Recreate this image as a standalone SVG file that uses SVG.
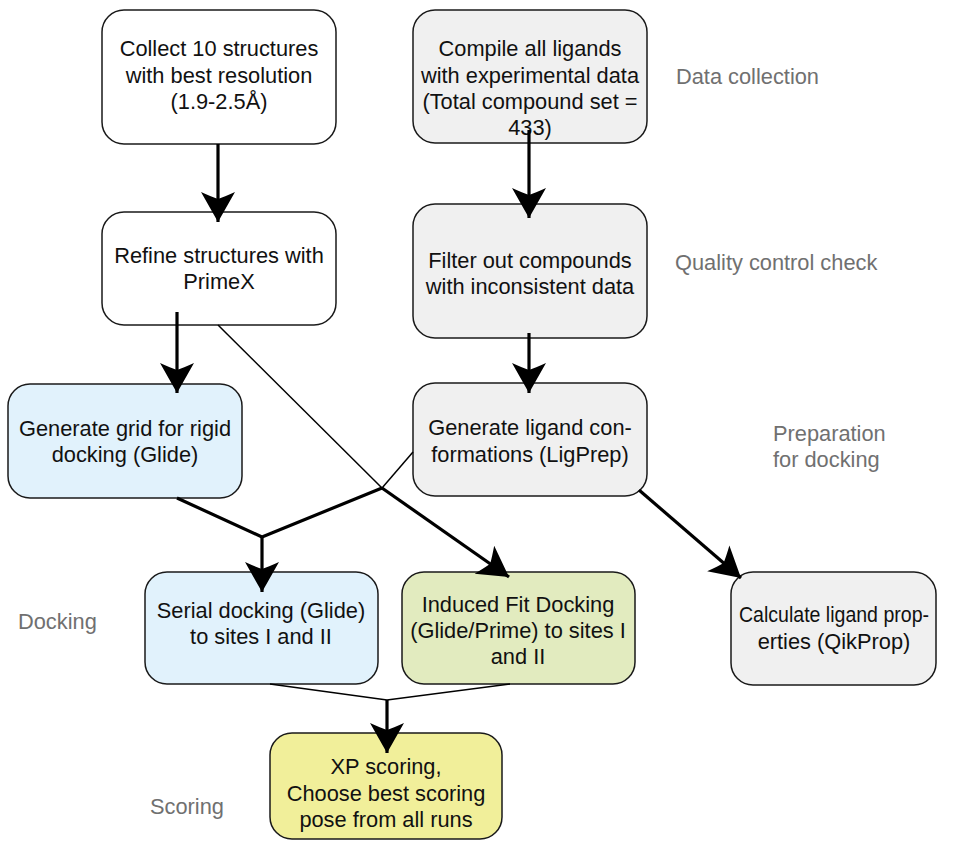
<svg xmlns="http://www.w3.org/2000/svg" width="960" height="844" viewBox="0 0 960 844">
<defs>
<marker id="ah" markerUnits="userSpaceOnUse" markerWidth="40" markerHeight="40" viewBox="-34 -20 40 40" refX="0" refY="0" orient="auto-start-reverse">
<path d="M0,0 L-30,-17 Q-25,-6 -23,0 Q-25,6 -30,17 Z" fill="#000"/>
</marker>
<style>
.box{stroke:#1a1a1a;stroke-width:1.5}
.w{fill:#ffffff}.g{fill:#f0f0f0}.b{fill:#e1f2fc}.gr{fill:#e2ebbf}.y{fill:#f1ef9a}
text{font-family:"Liberation Sans",Arial,sans-serif;font-size:21.8px;fill:#111;text-anchor:middle}
text.lbl{fill:#707070;text-anchor:start}
.thick{stroke:#000;stroke-width:3.2;fill:none}
.thin{stroke:#000;stroke-width:1.5;fill:none}
</style>
</defs>
<rect width="960" height="844" fill="#fff"/>
<g id="n1"><rect class="box w" x="102" y="10" width="234" height="134" rx="22"/>
<text x="219" y="56">Collect 10 structures</text><text x="219" y="83">with best resolution</text><text x="219" y="109">(1.9-2.5Å)</text></g>
<g id="n2"><rect class="box w" x="102" y="212" width="234" height="113" rx="22"/>
<text x="219" y="263">Refine structures with</text><text x="219" y="289">PrimeX</text></g>
<g id="n3"><rect class="box g" x="413" y="10" width="234" height="133" rx="22"/>
<text x="530" y="56">Compile all ligands</text><text x="530" y="83">with experimental data</text><text x="530" y="109">(Total compound set =</text><text x="530" y="135">433)</text></g>
<g id="n4"><rect class="box g" x="413" y="204" width="234" height="134" rx="22"/>
<text x="530" y="268">Filter out compounds</text><text x="530" y="294">with inconsistent data</text></g>
<g id="n5"><rect class="box b" x="8" y="384" width="234" height="114" rx="22"/>
<text x="125" y="436">Generate grid for rigid</text><text x="125" y="462">docking (Glide)</text></g>
<g id="n6"><rect class="box g" x="413" y="383" width="234" height="113" rx="22"/>
<text x="530" y="435">Generate ligand con-</text><text x="530" y="462">formations (LigPrep)</text></g>
<g id="n7"><rect class="box b" x="145" y="572" width="233" height="112" rx="22"/>
<text x="261" y="618">Serial docking (Glide)</text><text x="261" y="644">to sites I and II</text></g>
<g id="n8"><rect class="box gr" x="402" y="572" width="233" height="112" rx="22"/>
<text x="518" y="612">Induced Fit Docking</text><text x="518" y="638">(Glide/Prime) to sites I</text><text x="518" y="664">and II</text></g>
<g id="n9"><rect class="box g" x="731" y="572" width="205" height="113" rx="22"/>
<text x="834" y="622" textLength="190" lengthAdjust="spacingAndGlyphs">Calculate ligand prop-</text><text x="834" y="649">erties (QikProp)</text></g>
<g id="n10"><rect class="box y" x="270" y="733" width="232" height="106" rx="22"/>
<text x="386" y="774">XP scoring,</text><text x="386" y="801">Choose best scoring</text><text x="386" y="827">pose from all runs</text></g>
<g id="labels">
<text class="lbl" x="676" y="84">Data collection</text>
<text class="lbl" x="675" y="270">Quality control check</text>
<text class="lbl" x="773" y="441">Preparation</text>
<text class="lbl" x="773" y="467">for docking</text>
<text class="lbl" x="18" y="629">Docking</text>
<text class="lbl" x="150" y="814">Scoring</text>
</g>
<g id="connectors">
<path class="thick" d="M218,144 L218,222" marker-end="url(#ah)"/>
<path class="thick" d="M529,130 L529,218" marker-end="url(#ah)"/>
<path class="thick" d="M529,333 L529,393" marker-end="url(#ah)"/>
<path class="thick" d="M177,312 L177,393" marker-end="url(#ah)"/>
<path class="thin" d="M218,325 L382,488"/>
<path class="thick" d="M382,488 L509,577" marker-end="url(#ah)"/>
<path class="thick" d="M177,498 L262,537 L382,488"/>
<path class="thin" d="M382,488 L413,452"/>
<path class="thick" d="M262,537 L262,592" marker-end="url(#ah)"/>
<path class="thick" d="M639,490 L741,578" marker-end="url(#ah)"/>
<path class="thin" d="M270,684 L387,700 L510,684"/>
<path class="thick" d="M387,700 L387,753" marker-end="url(#ah)"/>
</g>
</svg>
